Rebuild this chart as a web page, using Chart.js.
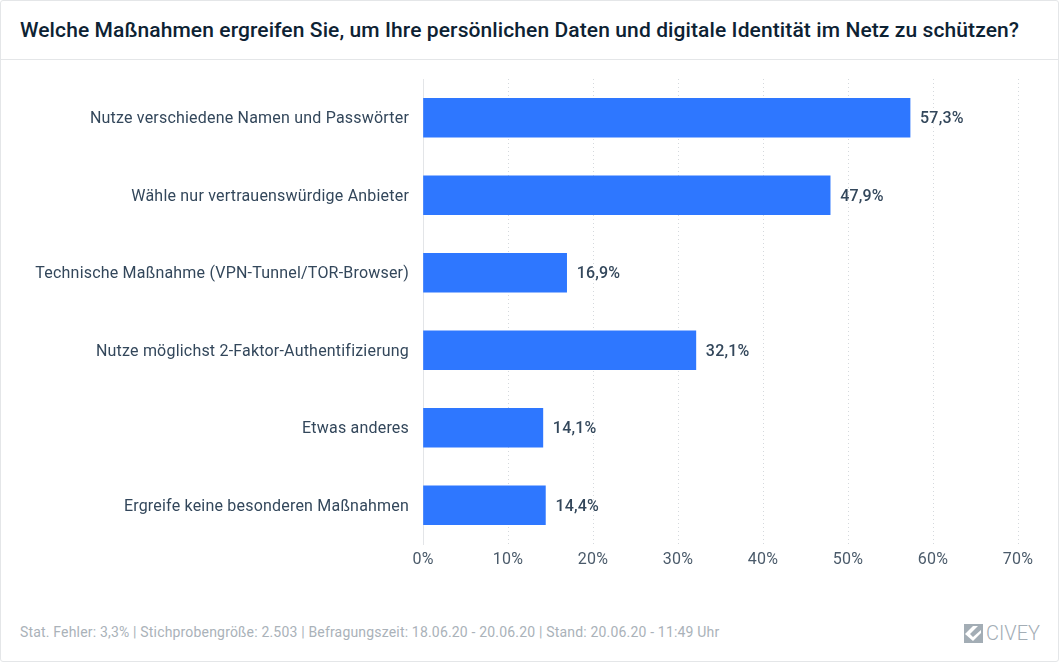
<!DOCTYPE html>
<html lang="de">
<head>
    <meta charset="UTF-8">
    <title>Civey</title>
    <script src="https://cdn.jsdelivr.net/npm/chart.js"></script>
    <style>
        html, body { margin: 0; padding: 0; background: #fff; }
        #card { position: relative; width: 1057px; height: 660px; border: 1px solid #e4e6e8; border-radius: 3px; overflow: hidden; font-family: Roboto, sans-serif; }
        #title { position: absolute; left: 19px; top: 0; width: 1030px; height: 58px; line-height: 58px; font-size: 21px; letter-spacing: 0.1px; font-weight: 500; color: #0d2233; white-space: nowrap; }
        #rule { position: absolute; left: 0; right: 0; top: 58px; height: 1px; background: #e4e6e8; }
        #chart-box { position: absolute; left: -1px; top: 59px; width: 1059px; height: 521px; }
        #note { position: absolute; left: 19px; top: 622px; font-size: 14px; letter-spacing: 0.18px; line-height: 18px; color: #aab2b9; white-space: nowrap; }
        #brand { position: absolute; left: 963px; top: 622px; height: 20px; display: flex; align-items: center; color: #a3adb5; font-size: 20px; font-weight: 300; }
        #brand svg { margin-right: 3px; }
    </style>
</head>
<body>
    <div id="card">
        <div id="title">Welche Maßnahmen ergreifen Sie, um Ihre persönlichen Daten und digitale Identität im Netz zu schützen?</div>
        <div id="rule"></div>
        <div id="chart-box"><canvas id="chart"></canvas></div>
        <div id="note">Stat. Fehler: 3,3% | Stichprobengröße: 2.503 | Befragungszeit: 18.06.20 - 20.06.20 | Stand: 20.06.20 - 11:49 Uhr</div>
        <div id="brand">
            <svg width="19" height="19" viewBox="0 0 19 19"><rect width="19" height="19" fill="#a3adb5"/><path d="M1 10 L9 2 H14 L6 10 L9 13 L17 6 V9 L9 17 Z" fill="#fff"/></svg>
            <span>CIVEY</span>
        </div>
    </div>

    <script>
        const categories = [
            'Nutze verschiedene Namen und Passwörter',
            'Wähle nur vertrauenswürdige Anbieter',
            'Technische Maßnahme (VPN-Tunnel/TOR-Browser)',
            'Nutze möglichst 2-Faktor-Authentifizierung',
            'Etwas anderes',
            'Ergreife keine besonderen Maßnahmen'
        ];
        const shares = [57.3, 47.9, 16.9, 32.1, 14.1, 14.4];
        const tickValues = [0, 10, 20, 30, 40, 50, 60, 70];

        const germanPercent = v => v.toFixed(1).replace('.', ',') + '%';

        // the canvas state gets reset on resize, so set the spacing before each draw
        const textSpacing = {
            id: 'textSpacing',
            beforeDraw(chart) {
                chart.ctx.letterSpacing = '0.2px';
            }
        };

        // value labels at the end of each bar
        const barLabels = {
            id: 'barLabels',
            afterDatasetsDraw(chart) {
                const ctx = chart.ctx;
                ctx.save();
                ctx.font = '500 16px Roboto';
                ctx.fillStyle = '#33475b';
                ctx.textBaseline = 'middle';
                chart.getDatasetMeta(0).data.forEach((bar, i) => {
                    ctx.fillText(germanPercent(shares[i]), bar.x + 10, bar.y + 1.5);
                });
                ctx.restore();
            }
        };

        new Chart(document.getElementById('chart'), {
            type: 'bar',
            plugins: [textSpacing, barLabels],
            data: {
                labels: categories,
                datasets: [{
                    data: shares,
                    backgroundColor: '#2e77ff',
                    barThickness: 39
                }]
            },
            options: {
                indexAxis: 'y',
                responsive: true,
                maintainAspectRatio: false,
                animation: false,
                layout: { padding: { top: 19, right: 41, bottom: 0, left: 0 } },
                plugins: { legend: { display: false }, tooltip: { enabled: false } },
                scales: {
                    x: {
                        min: 0,
                        max: 70,
                        afterBuildTicks: axis => { axis.ticks = tickValues.map(value => ({ value })); },
                        afterFit: axis => { axis.height = 37; },
                        border: { display: false, dash: [1, 3] },
                        grid: {
                            drawTicks: false,
                            color: '#d5d9dd',
                            lineWidth: 1
                        },
                        ticks: {
                            padding: 6,
                            maxRotation: 0,
                            color: '#4a5a6a',
                            font: { family: 'Roboto', size: 16 },
                            callback: v => v + '%'
                        }
                    },
                    y: {
                        // tick padding would otherwise push the plot area down
                        afterFit: axis => {
                            axis.width = 423;
                            axis.paddingTop = 0;
                            axis.paddingBottom = 0;
                        },
                        border: { display: true, color: '#e3e5e8' },
                        grid: { display: false, drawTicks: false },
                        ticks: {
                            padding: 14,
                            labelOffset: 1.5,
                            color: '#33475b',
                            font: { family: 'Roboto', size: 16 }
                        }
                    }
                }
            }
        });
    </script>
</body>
</html>
